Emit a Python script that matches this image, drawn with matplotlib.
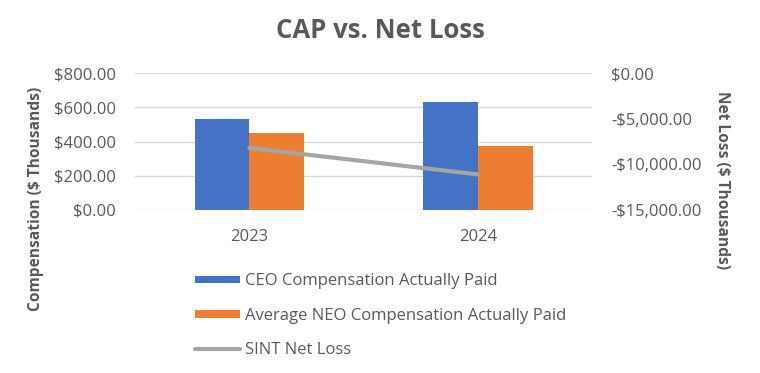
import matplotlib.pyplot as plt
from matplotlib.ticker import FuncFormatter

plt.rcParams['font.family'] = ['Open Sans', 'DejaVu Sans']

YEARS = ["2023", "2024"]
CEO_CAP = [530, 632]
NEO_CAP = [448, 372]
NET_LOSS = [-8200, -11100]

TEXT = "#595959"
BLUE = "#4472C4"
ORANGE = "#ED7D31"
GRAY = "#A5A5A5"
GRID = "#D9D9D9"

W, H = 760, 373


def main():
    fig = plt.figure(figsize=(W / 100, H / 100), dpi=100)
    ax = fig.add_axes([0.178, 0.437, 0.601, 0.367])
    ax2 = ax.twinx()

    x = list(range(len(YEARS)))
    w = 0.24
    b1 = ax.bar([i - w / 2 for i in x], CEO_CAP, w, color=BLUE, label="CEO Compensation Actually Paid", zorder=2)
    b2 = ax.bar([i + w / 2 for i in x], NEO_CAP, w, color=ORANGE, label="Average NEO Compensation Actually Paid", zorder=2)
    ln, = ax2.plot(x, NET_LOSS, color=GRAY, lw=3, label="SINT Net Loss", solid_capstyle="round")

    ax.set_xlim(-0.5, 1.5)
    ax.set_ylim(0, 800)
    ax.set_yticks([0, 200, 400, 600, 800])
    ax.yaxis.set_major_formatter(FuncFormatter(lambda v, p: "${:,.2f}".format(v)))
    ax2.set_ylim(-15000, 0)
    ax2.set_yticks([-15000, -10000, -5000, 0])
    ax2.yaxis.set_major_formatter(FuncFormatter(
        lambda v, p: ("-" if v < 0 else "") + "${:,.2f}".format(abs(v))))

    ax.set_xticks(x)
    ax.set_xticklabels(YEARS)
    ax.grid(axis="y", color=GRID, lw=1, zorder=0)
    ax.set_axisbelow(True)
    for a in (ax, ax2):
        for s in a.spines.values():
            s.set_visible(False)
        a.tick_params(length=0, labelsize=12, labelcolor=TEXT, pad=14)

    # axis titles are centred on the whole chart area, not the plot box
    fig.text(36 / W, 1 - 199 / H, "Compensation ($ Thousands)", rotation=90, ha="center", va="center",
             fontsize=11.2, fontweight="bold", color=TEXT)
    fig.text(722 / W, 1 - 180 / H, "Net Loss ($ Thousands)", rotation=-90, ha="center", va="center",
             fontsize=11.2, fontweight="bold", color=TEXT)

    fig.suptitle("CAP vs. Net Loss", x=0.5, y=0.955, fontsize=18.5, fontweight="bold", color=TEXT)

    fig.legend([b1, b2, ln], [b1.get_label(), b2.get_label(), ln.get_label()],
               loc="upper left", bbox_to_anchor=(187 / W, 1 - 265 / H),
               frameon=False, fontsize=12, labelcolor=TEXT, borderpad=0,
               handlelength=2.7, handleheight=0.33, labelspacing=1.1, handletextpad=0.3)

    fig.savefig("out.png", dpi=100)


if __name__ == '__main__':
    main()
